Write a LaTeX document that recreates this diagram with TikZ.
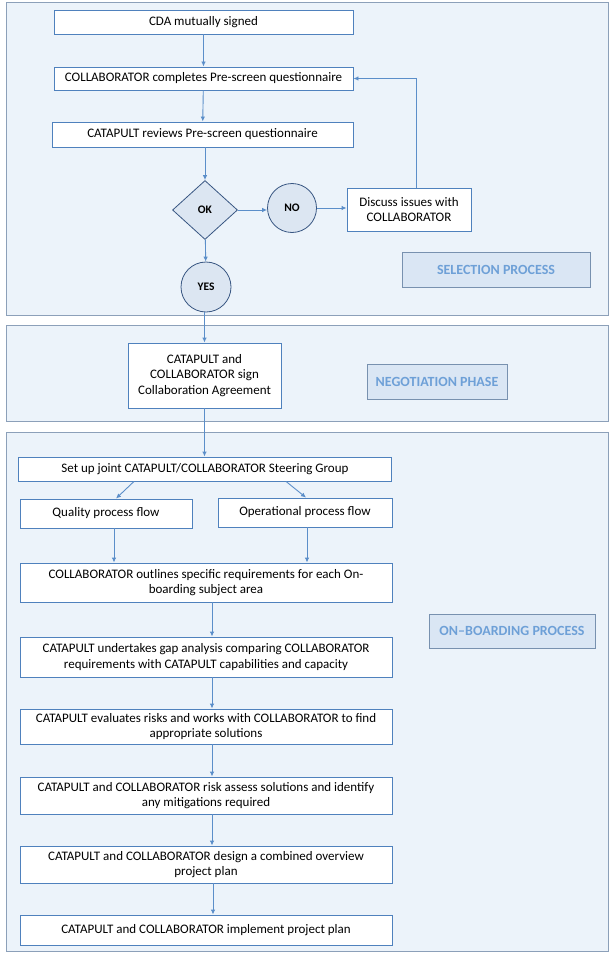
\documentclass[tikz,border=0pt]{standalone}
\usepackage{fontspec}
\setmainfont{Carlito}
\usepackage{xcolor}
\usepackage{tikz}
\usetikzlibrary{shapes.geometric,arrows.meta}
\definecolor{panelfill}{RGB}{236,243,250}
\definecolor{panelline}{RGB}{140,160,185}
\definecolor{boxline}{RGB}{79,129,189}
\definecolor{flowblue}{RGB}{91,142,201}
\definecolor{shapefill}{RGB}{220,230,242}
\definecolor{shapeline}{RGB}{56,86,130}
\definecolor{tagfill}{RGB}{218,230,244}
\definecolor{tagline}{RGB}{120,145,175}
\definecolor{tagtext}{RGB}{110,160,215}

\begin{document}
\begin{tikzpicture}[
    x=1pt, y=-1pt,
    panel/.style={
        rectangle, draw=panelline, fill=panelfill,
        line width=1pt, inner sep=0pt
    },
    stepbox/.style={
        rectangle, draw=boxline, fill=white,
        line width=0.9pt, inner sep=0pt, align=center,
        font=\fontsize{13}{15.5}\selectfont
    },
    decision/.style={
        diamond, draw=shapeline, fill=shapefill, line width=0.8pt,
        inner sep=0pt, minimum width=65pt, minimum height=59pt,
        font=\fontsize{11.5}{13}\selectfont\bfseries
    },
    answer/.style={
        circle, draw=shapeline, fill=shapefill, line width=0.8pt,
        inner sep=0pt, minimum size=49pt,
        font=\fontsize{11.5}{13}\selectfont\bfseries
    },
    phasetag/.style={
        rectangle, draw=tagline, fill=tagfill, line width=0.8pt,
        inner sep=0pt, text=tagtext,
        font=\fontsize{14}{16}\selectfont\bfseries
    },
    arrow/.style={-{Latex[length=5pt,width=4.5pt]}, line width=0.9pt, color=flowblue}
]
    \useasboundingbox (0,0) rectangle (613,963);

    \node[panel, minimum width=602pt, minimum height=312pt] (selpanel) at (307,159) {};
    \node[panel, minimum width=602pt, minimum height=96pt] (negpanel) at (307,373) {};
    \node[panel, minimum width=602pt, minimum height=519pt] (onbpanel) at (307,691.5) {};

    \node[stepbox, minimum width=299pt, minimum height=24pt] (cda) at (203.5,22) {CDA mutually signed};
    \node[stepbox, minimum width=299pt, minimum height=23pt] (complete) at (203.5,78.5) {COLLABORATOR completes Pre-screen questionnaire};
    \node[stepbox, minimum width=301pt, minimum height=25pt] (review) at (202.5,134.5) {CATAPULT reviews Pre-screen questionnaire};
    \node[decision] (ok) at (205,210) {OK};
    \node[answer] (no) at (292,208) {NO};
    \node[stepbox, minimum width=124pt, minimum height=43pt] (discuss) at (409,209.5) {Discuss issues with\\COLLABORATOR};
    \node[answer, minimum size=50pt] (yes) at (206,287) {YES};
    \node[phasetag, minimum width=188pt, minimum height=35pt] (seltag) at (496,269.5) {SELECTION PROCESS};

    \node[stepbox, minimum width=153pt, minimum height=65pt] (agree) at (204.5,375.5) {CATAPULT and\\COLLABORATOR sign\\Collaboration Agreement};
    \node[phasetag, minimum width=140pt, minimum height=35pt] (negtag) at (437,381.5) {NEGOTIATION PHASE};

    \node[stepbox, minimum width=373pt, minimum height=24pt] (setup) at (205,469) {Set up joint CATAPULT/COLLABORATOR Steering Group};
    \node[stepbox, minimum width=172pt, minimum height=29pt] (quality) at (106,513.5) {Quality process flow};
    \node[stepbox, minimum width=174pt, minimum height=29pt] (operational) at (305,512.5) {Operational process flow};
    \node[stepbox, minimum width=372pt, minimum height=39pt] (outlines) at (206,582.5) {COLLABORATOR outlines specific requirements for each On-\\boarding subject area};
    \node[stepbox, minimum width=372pt, minimum height=40pt] (gap) at (206,657) {CATAPULT undertakes gap analysis comparing COLLABORATOR\\requirements with CATAPULT capabilities and capacity};
    \node[stepbox, minimum width=372pt, minimum height=35pt] (evaluate) at (206,726.5) {CATAPULT evaluates risks and works with COLLABORATOR to find\\appropriate solutions};
    \node[stepbox, minimum width=372pt, minimum height=37pt] (assess) at (206,795.5) {CATAPULT and COLLABORATOR risk assess solutions and identify\\any mitigations required};
    \node[stepbox, minimum width=372pt, minimum height=37pt] (design) at (206,864.5) {CATAPULT and COLLABORATOR design a combined overview\\project plan};
    \node[stepbox, minimum width=372pt, minimum height=30pt] (implement) at (206,930) {CATAPULT and COLLABORATOR implement project plan};
    \node[phasetag, minimum width=166pt, minimum height=34pt] (onbtag) at (512,631) {ON--BOARDING PROCESS};

    \draw[arrow] (cda) -- (complete);
    \draw[arrow] (complete) -- (review);
    \draw[arrow] (review.south -| ok) -- (ok);
    \draw[arrow] (ok) -- (ok -| no.west);
    \draw[arrow] (no) -- (no -| discuss.west);
    \draw[arrow] ([xshift=7pt]discuss.north) |- (complete.east);
    \draw[arrow] (ok) -- (yes);
    \draw[arrow] (yes.south -| agree.north) -- (agree);
    \draw[arrow] (agree) -- (agree.south |- setup.north);
    \draw[arrow] ([xshift=-71pt]setup.south) -- ([xshift=10pt]quality.north);
    \draw[arrow] ([xshift=81pt]setup.south) -- ([xshift=1pt]operational.north);
    \draw[arrow] ([xshift=8pt]quality.south) -- ([xshift=8pt]quality.south |- outlines.north);
    \draw[arrow] ([xshift=2pt]operational.south) -- ([xshift=2pt]operational.south |- outlines.north);
    \draw[arrow] ([xshift=6pt]outlines.south) -- ([xshift=6pt]gap.north);
    \draw[arrow] ([xshift=6pt]gap.south) -- ([xshift=6pt]evaluate.north);
    \draw[arrow] ([xshift=6pt]evaluate.south) -- ([xshift=6pt]assess.north);
    \draw[arrow] ([xshift=6pt]assess.south) -- ([xshift=6pt]design.north);
    \draw[arrow] ([xshift=7pt]design.south) -- ([xshift=7pt]implement.north);
\end{tikzpicture}
\end{document}
